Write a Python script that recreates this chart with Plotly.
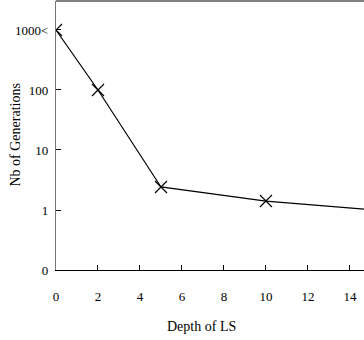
import plotly.graph_objects as go

depth = [0, 2, 5, 10, 20]
generations = [1000, 100, 2.42, 1.41, 0.73]

y_tickvals = [0.1, 1, 10, 100, 1000]
y_ticktext = ["0", "1", "10", "100", "1000<"]
x_tickvals = [0, 2, 4, 6, 8, 10, 12, 14]

FONT = "Liberation Serif, Times New Roman, serif"

fig = go.Figure()
fig.add_trace(go.Scatter(
    x=depth, y=generations, mode="lines+markers",
    line=dict(color="black", width=1.2),
    marker=dict(symbol="x-thin", size=12, line=dict(color="black", width=1.2)),
    showlegend=False,
))

fig.update_layout(
    width=364, height=340,
    margin=dict(l=56, r=0, t=1, b=70),
    paper_bgcolor="white", plot_bgcolor="white",
    font=dict(family=FONT, size=13, color="black"),
    xaxis=dict(
        range=[0, 14.67], tickvals=x_tickvals, ticks="inside", ticklen=5,
        tickcolor="black", showline=True, linecolor="black", linewidth=1.2,
        showgrid=False, zeroline=False, ticklabelstandoff=14,
        tickfont=dict(family=FONT, size=13),
    ),
    yaxis=dict(
        type="log", range=[-1, 3.483], tickvals=y_tickvals, ticktext=y_ticktext,
        ticks="inside", ticklen=5, tickcolor="black", showline=True,
        linecolor="#777777", linewidth=1.2, showgrid=False, zeroline=False,
        ticklabelstandoff=4, tickfont=dict(family=FONT, size=13),
    ),
    shapes=[dict(type="line", xref="paper", yref="paper", x0=0, x1=1, y0=1, y1=1,
                 line=dict(color="black", width=1.2))],
    annotations=[
        dict(text="Depth of LS", xref="paper", yref="paper", x=0.474, y=-0.21,
             showarrow=False, xanchor="center", yanchor="middle",
             font=dict(family=FONT, size=14)),
        dict(text="Nb of Generations", xref="paper", yref="paper", x=-0.133, y=0.5,
             showarrow=False, xanchor="center", yanchor="middle", textangle=-90,
             font=dict(family=FONT, size=14)),
    ],
)

fig.write_html("out.html")
